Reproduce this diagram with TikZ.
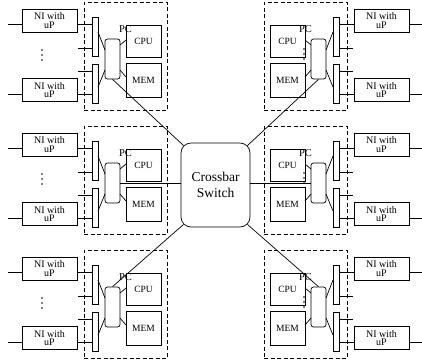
\documentclass[tikz,border=0pt]{standalone}
\usepackage{fontspec}
\setmainfont{Liberation Serif}
\usetikzlibrary{calc,backgrounds}
\tikzset{
  wire/.style={line width=0.7pt},
  box/.style={draw, line width=0.7pt, inner sep=0pt, fill=white},
  nibox/.style={box, minimum width=55pt, minimum height=23pt, align=center, font=\fontsize{10}{8.5}\selectfont},
  barbox/.style={box, minimum width=6pt, minimum height=39pt},
  pcbox/.style={box, rounded corners=2.5pt, minimum width=15pt, minimum height=40pt},
  unitbox/.style={box, minimum width=35pt, font=\fontsize{9.5}{10}\selectfont},
  dashbox/.style={draw, line width=0.7pt, dash pattern=on 4pt off 2.5pt, minimum width=83pt, minimum height=108pt, inner sep=0pt},
  lbl/.style={inner sep=0pt, font=\fontsize{10.5}{10.5}\selectfont},
  xbar/.style={box, rounded corners=10pt, minimum width=69pt, minimum height=84pt, align=center, font=\fontsize{13.5}{15.5}\selectfont},
  pics/module/.style={code={
    \node[dashbox] (-dash) at (125.5,56) {};
    \node[nibox] (-ni1) at (49.5,20.5) {NI with\\uP};
    \node[nibox] (-ni2) at (49.5,90) {NI with\\uP};
    \node[barbox] (-bar1) at (95,36.5) {};
    \node[barbox] (-bar2) at (95,83.5) {};
    \node[pcbox] (-pc) at (112.5,59) {};
    \node[unitbox, minimum height=32pt] (-cpu) at (143.5,41) {CPU};
    \node[unitbox, minimum height=34pt] (-mem) at (143.5,80) {MEM};
    \node[lbl] (-pcl) at (125.5,29.5) {PC};
    \coordinate (-e1) at (8,24);
    \coordinate (-s1) at (78,48);
    \coordinate (-s2) at (78,71);
    \coordinate (-e2) at (8,94);
    \coordinate (-b1) at (98,32);
    \coordinate (-p1) at (105,50);
    \coordinate (-b2) at (98,87);
    \coordinate (-p2) at (105,70);
    \coordinate (-q1) at (120,45);
    \coordinate (-c1) at (126,40);
    \coordinate (-q2) at (120,70);
    \coordinate (-m1) at (126,77);
    \begin{pgfonlayer}{background}
      \draw[wire] (-e1) -- (-e1 -| -bar1);
      \draw[wire] (-s1) -- (-s1 -| -bar1);
      \draw[wire] (-s2) -- (-s2 -| -bar2);
      \draw[wire] (-e2) -- (-e2 -| -bar2);
    \end{pgfonlayer}
    \draw[wire] (-b1) -- (-p1);
    \draw[wire] (-b2) -- (-p2);
    \draw[wire] (-q1) -- (-c1);
    \draw[wire] (-q2) -- (-m1);
  }}
}
\begin{document}
\begin{tikzpicture}[x=1pt,y=-1pt]
\useasboundingbox (0,0) rectangle (422,360);
\pic (tl) at (0,0) {module};
\pic (ml) at (0,124) {module};
\pic (bl) at (0,248) {module};
\pic[xscale=-1] (tr) at (431,0) {module};
\pic[xscale=-1] (mr) at (431,124) {module};
\pic[xscale=-1] (br) at (431,248) {module};
\foreach \dy in {0,124,248} {
  \foreach \k in {0,5,10} {
    \fill (42,50+\dy+\k) circle (0.8pt);
    \fill (304,49+\dy+\k) circle (0.8pt);
  }
}
\node[xbar] (xb) at (215.5,185) {Crossbar\\Switch};
\draw[wire] (tl-pc.south) -- ($(xb.north west)+(2.9,2.9)$);
\draw[wire] (tr-pc.south) -- ($(xb.north east)+(-2.9,2.9)$);
\draw[wire] (ml-pc.east) -- (ml-pc.east -| xb.west);
\draw[wire] (mr-pc.west) -- (mr-pc.west -| xb.east);
\draw[wire] (bl-pc.north) -- ($(xb.south west)+(2.9,-2.9)$);
\draw[wire] (br-pc.north) -- ($(xb.south east)+(-2.9,-2.9)$);
\end{tikzpicture}
\end{document}
